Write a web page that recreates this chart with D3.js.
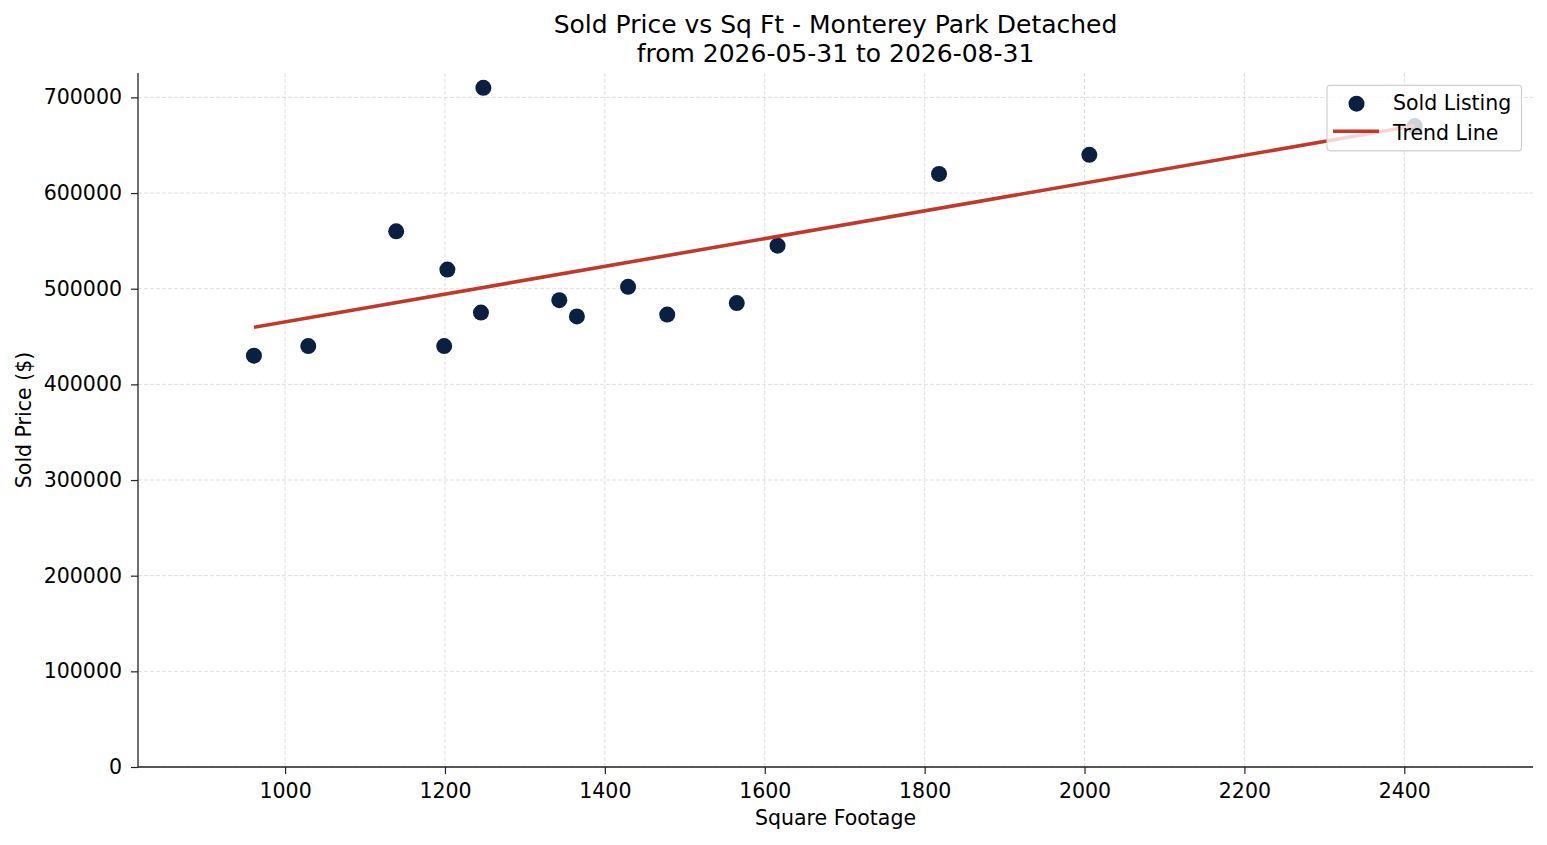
<!DOCTYPE html>
<html>
<head>
	<meta charset="utf-8">
	<title>Sold Price vs Sq Ft</title>
	<script src="https://cdn.jsdelivr.net/npm/d3@7"></script>
</head>
<style type="text/css">
	body {margin:0; background:#fff;}
	text {font-family:"DejaVu Sans", sans-serif; fill:#000;}
</style>
<body>
</body>
</html>
<script type="text/javascript">
	// sold listings
	var sqft  = [961, 1029, 1139, 1203, 1199, 1248, 1245, 1343, 1365, 1429, 1478, 1565, 1616, 1818, 2006, 2413];
	var price = [430000, 440000, 560000, 520000, 440000, 710000, 475000, 488000, 471000, 502000, 473000, 485000, 545000, 620000, 640000, 670000];
	var xTicks = [1000, 1200, 1400, 1600, 1800, 2000, 2200, 2400];
	var yTicks = [0, 100000, 200000, 300000, 400000, 500000, 600000, 700000];
	var titleLines = ["Sold Price vs Sq Ft - Monterey Park Detached", "from 2026-05-31 to 2026-08-31"];

	var width = 1547, height = 845;
	var margin = {left:138, right:14, top:73, bottom:78};
	var w = width - margin.left - margin.right;
	var h = height - margin.top - margin.bottom;
	var fs = "20.5px";

	var data = sqft.map(function(d, i){ return [d, price[i]]; });

	// least squares trend line
	var mx = d3.mean(sqft), my = d3.mean(price);
	var slope = d3.sum(data, function(d){ return (d[0]-mx)*(d[1]-my); }) / d3.sum(sqft, function(d){ return (d-mx)*(d-mx); });
	var icpt = my - slope*mx;
	var xr = d3.extent(sqft);
	var trend = [[xr[0], icpt + slope*xr[0]], [xr[1], icpt + slope*xr[1]]];

	var svg = d3.select("body").append("svg").attr("width", width).attr("height", height);

	var x = d3.scaleLinear().domain([816, 2561]).range([0, w]);
	var y = d3.scaleLinear().domain([0, 725500]).range([h, 0]);
	var g = svg.append("g").attr("transform", "translate("+ margin.left +","+ margin.top +")");

	// grid
	g.append("g").selectAll("line").data(xTicks).enter().append("line")
		.attr("x1", function(d){return x(d)}).attr("x2", function(d){return x(d)})
		.attr("y1", 0).attr("y2", h)
		.attr("stroke", "#b0b0b0").attr("stroke-opacity", 0.5).attr("stroke-width", 0.8).attr("stroke-dasharray", "4,2");
	g.append("g").selectAll("line").data(yTicks).enter().append("line")
		.attr("y1", function(d){return y(d)}).attr("y2", function(d){return y(d)})
		.attr("x1", 0).attr("x2", w)
		.attr("stroke", "#b0b0b0").attr("stroke-opacity", 0.5).attr("stroke-width", 0.8).attr("stroke-dasharray", "4,2");

	g.selectAll("circle.pt").data(data).enter().append("circle").attr("class", "pt")
		.attr("cx", function(d){return x(d[0])})
		.attr("cy", function(d){return y(d[1])})
		.attr("r", 8)
		.attr("fill", "#0b2040");

	g.append("path").datum(trend)
		.attr("d", d3.line().x(function(d){return x(d[0])}).y(function(d){return y(d[1])}))
		.attr("fill", "none").attr("stroke", "#c0392b").attr("stroke-width", 3.6);

	var xa = g.append("g").attr("transform", "translate(0,"+ h +")")
		.call(d3.axisBottom(x).tickValues(xTicks).tickSize(7).tickPadding(9).tickFormat(d3.format("d")));
	var ya = g.append("g")
		.call(d3.axisLeft(y).tickValues(yTicks).tickSize(7).tickPadding(9).tickFormat(d3.format("d")));
	[xa, ya].forEach(function(a){
		a.select(".domain").attr("stroke", "#222").attr("stroke-width", 1.3);
		a.selectAll(".tick line").attr("stroke", "#222").attr("stroke-width", 1.2);
		a.selectAll("text").style("font-family", "DejaVu Sans").style("font-size", fs).attr("fill", "#000");
	});
	xa.select(".domain").attr("d", "M0,0H" + w);
	ya.select(".domain").attr("d", "M0,0V" + h);

	g.append("text").attr("x", w/2).attr("y", h + 58).style("text-anchor", "middle").style("font-size", fs).text("Square Footage");
	g.append("text").attr("transform", "translate(" + (-107) + "," + (h/2) + ") rotate(-90)").style("text-anchor", "middle").style("font-size", fs).text("Sold Price ($)");

	svg.selectAll("text.title").data(titleLines).enter().append("text").attr("class", "title")
		.attr("x", margin.left + w/2).attr("y", function(d, i){return 33 + i*29})
		.style("text-anchor", "middle").style("font-size", "25px").text(function(d){return d});

	// legend
	var lg = g.append("g").attr("transform", "translate(" + (w - 206) + ",12.3)");
	lg.append("rect").attr("width", 194.5).attr("height", 65.5).attr("rx", 3)
		.attr("fill", "#fff").attr("fill-opacity", 0.8).attr("stroke", "#d0d0d0").attr("stroke-width", 1.2);
	lg.append("circle").attr("cx", 29.5).attr("cy", 18.4).attr("r", 8).attr("fill", "#0b2040");
	lg.append("line").attr("x1", 6).attr("x2", 52).attr("y1", 46).attr("y2", 46).attr("stroke", "#c0392b").attr("stroke-width", 3.6);
	lg.append("text").attr("x", 66).attr("y", 25).style("font-size", fs).text("Sold Listing");
	lg.append("text").attr("x", 66).attr("y", 54.4).style("font-size", fs).text("Trend Line");
</script>
